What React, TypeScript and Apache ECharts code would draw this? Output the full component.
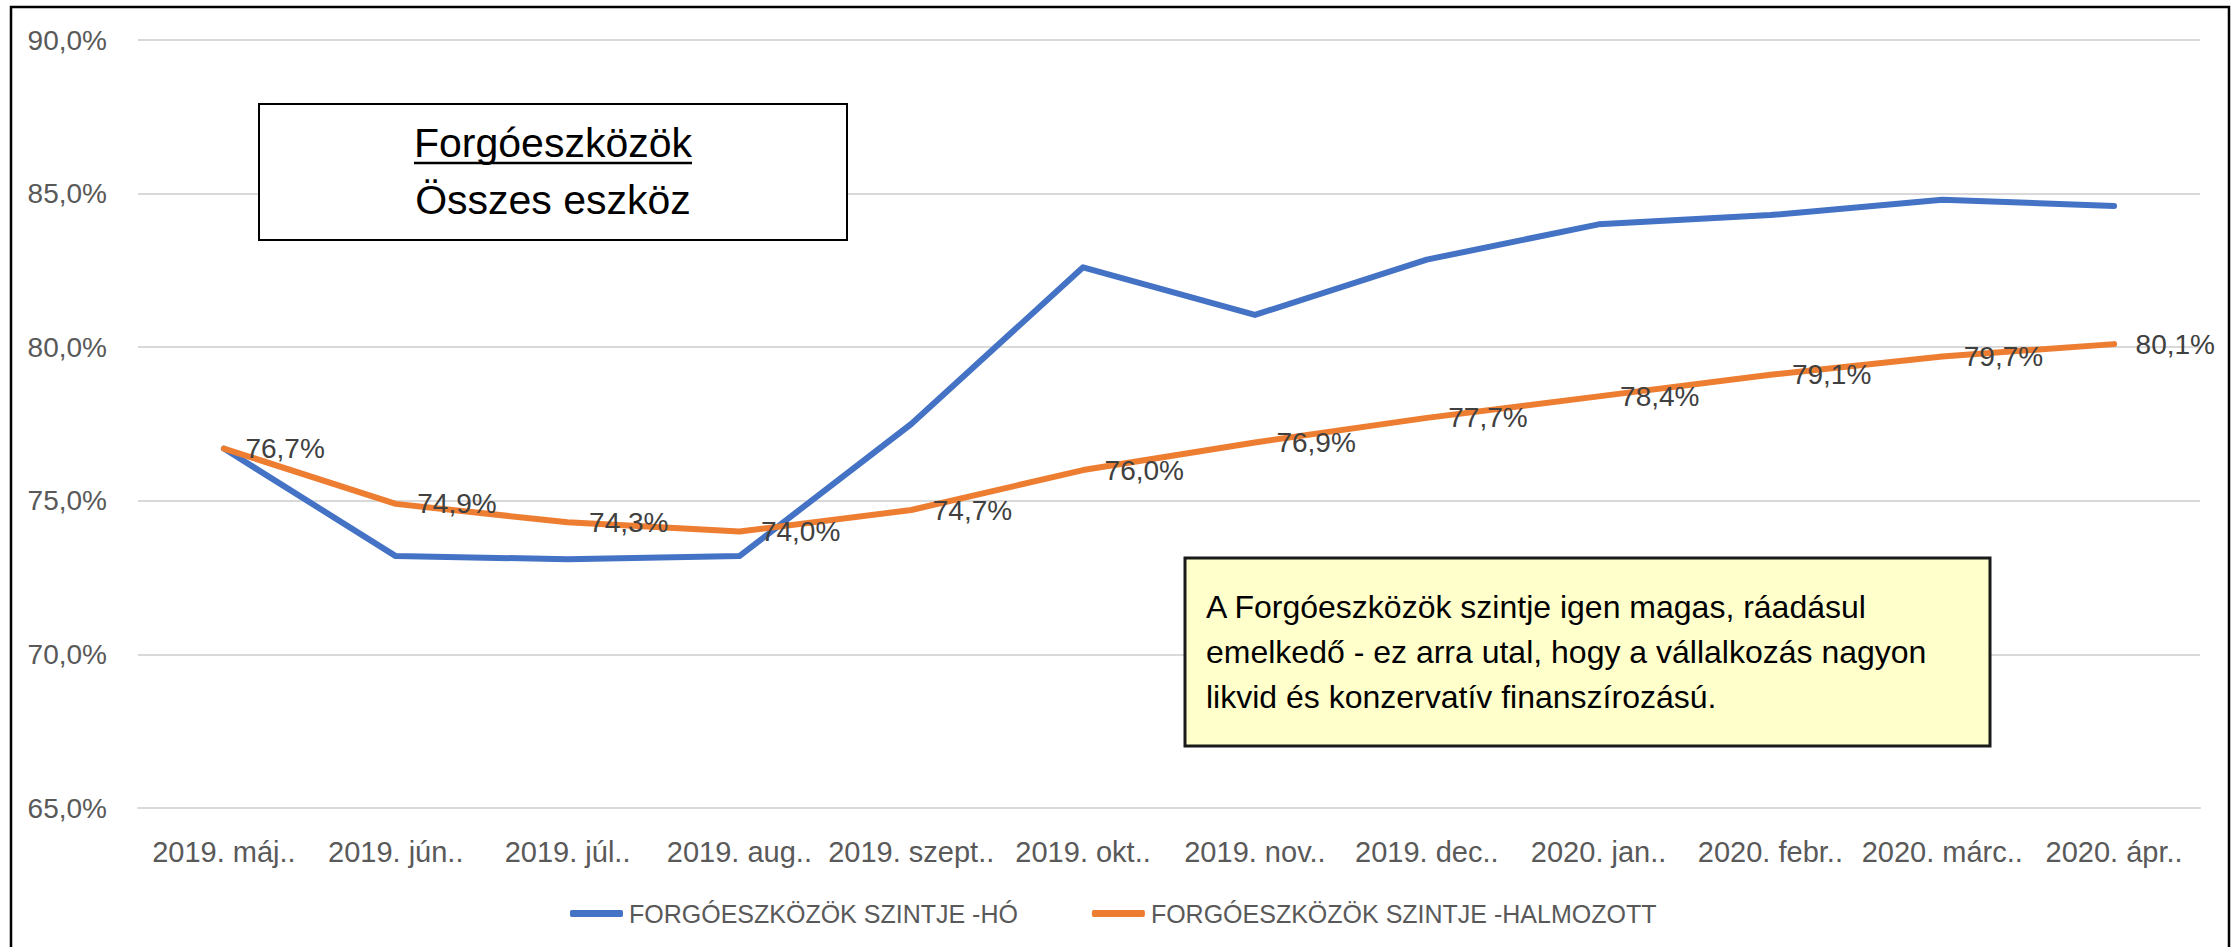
import React, { useEffect, useRef } from "react";
import * as echarts from "echarts";

const categories = [
  "2019. máj..", "2019. jún..", "2019. júl..", "2019. aug..", "2019. szept..", "2019. okt..",
  "2019. nov..", "2019. dec..", "2020. jan..", "2020. febr..", "2020. márc..", "2020. ápr..",
];
const seriesNames = ["FORGÓESZKÖZÖK SZINTJE -HÓ", "FORGÓESZKÖZÖK SZINTJE -HALMOZOTT"];
const monthly = [76.7, 73.2, 73.1, 73.2, 77.5, 82.6, 81.05, 82.85, 84.0, 84.3, 84.8, 84.6];
const cumulative = [76.7, 74.9, 74.3, 74.0, 74.7, 76.0, 76.9, 77.7, 78.4, 79.1, 79.7, 80.1];
const yTicks = [65, 70, 75, 80, 85, 90];
const titleLines = ["Forgóeszközök", "Összes eszköz"];
const noteText = [
  "A Forgóeszközök szintje igen magas, ráadásul",
  "emelkedő - ez arra utal, hogy a vállalkozás nagyon",
  "likvid és konzervatív finanszírozású.",
];

const FONT = "'Liberation Sans', Arial, sans-serif";
const pct = (v: number) => v.toFixed(1).replace(".", ",") + "%";

export default function App() {
  const ref = useRef<HTMLDivElement>(null);
  useEffect(() => {
    if (!ref.current) return;
    const chart = echarts.init(ref.current, undefined, { renderer: "svg" });
    chart.setOption({
      animation: false,
      backgroundColor: "#ffffff",
      textStyle: { fontFamily: FONT },
      grid: { left: 138, right: 31, top: 40, bottom: 139, containLabel: false },
      legend: {
        left: 565,
        top: 896,
        itemWidth: 53,
        itemHeight: 7,
        itemGap: 74,
        textStyle: { fontFamily: FONT, fontSize: 25, color: "#595959", padding: [0, 0, 0, 1] },
        data: [
          { name: seriesNames[0], icon: "roundRect" },
          { name: seriesNames[1], icon: "roundRect" },
        ],
      },
      xAxis: {
        type: "category",
        data: categories,
        boundaryGap: true,
        axisTick: { show: false },
        axisLine: { show: true, lineStyle: { color: "#D9D9D9", width: 2 } },
        axisLabel: { interval: 0, margin: 29, fontSize: 29, color: "#595959", fontFamily: FONT },
      },
      yAxis: {
        type: "value",
        min: yTicks[0],
        max: yTicks[yTicks.length - 1],
        interval: yTicks[1] - yTicks[0],
        axisLine: { show: false },
        axisTick: { show: false },
        splitLine: { lineStyle: { color: "#D9D9D9", width: 2 } },
        axisLabel: { margin: 31, fontSize: 28, color: "#595959", fontFamily: FONT, formatter: (v: number) => pct(v) },
      },
      series: [
        {
          name: seriesNames[0],
          type: "line",
          data: monthly,
          symbol: "none",
          color: "#4472C4",
          lineStyle: { color: "#4472C4", width: 6, cap: "round", join: "round" },
          z: 2,
        },
        {
          name: seriesNames[1],
          type: "line",
          data: cumulative,
          symbol: "circle",
          symbolSize: 3,
          showSymbol: true,
          color: "#ED7D31",
          itemStyle: { color: "#ED7D31" },
          lineStyle: { color: "#ED7D31", width: 6, cap: "round", join: "round" },
          label: {
            show: true,
            position: "right",
            distance: 20,
            fontSize: 28,
            color: "#404040",
            fontFamily: FONT,
            formatter: (p: any) => pct(p.value),
          },
          labelLayout: { hideOverlap: false },
          z: 3,
        },
      ],
      graphic: [
        {
          type: "rect",
          shape: { x: 11, y: 7, width: 2218, height: 980 },
          style: { fill: "none", stroke: "#000000", lineWidth: 2.5 },
          silent: true,
          z: 100,
        },
        {
          type: "rect",
          shape: { x: 259, y: 104, width: 588, height: 136 },
          style: { fill: "#ffffff", stroke: "#000000", lineWidth: 2 },
          z: 50,
        },
        {
          type: "text",
          x: 553,
          y: 143,
          style: { text: titleLines[0], fontSize: 41, fontFamily: FONT, fill: "#000000", align: "center", verticalAlign: "middle" },
          z: 51,
        },
        {
          type: "line",
          shape: { x1: 414, y1: 163, x2: 692, y2: 163 },
          style: { stroke: "#000000", lineWidth: 2.5 },
          z: 51,
        },
        {
          type: "text",
          x: 553,
          y: 200,
          style: { text: titleLines[1], fontSize: 41, fontFamily: FONT, fill: "#000000", align: "center", verticalAlign: "middle" },
          z: 51,
        },
        {
          type: "rect",
          shape: { x: 1185, y: 558, width: 805, height: 188 },
          style: { fill: "#FFFFCC", stroke: "#1a1a1a", lineWidth: 3 },
          z: 50,
        },
        {
          type: "text",
          x: 1206,
          y: 652,
          style: {
            text: noteText.join("\n"),
            fontSize: 32,
            lineHeight: 45,
            fontFamily: FONT,
            fill: "#000000",
            align: "left",
            verticalAlign: "middle",
          },
          z: 51,
        },
      ],
    });
    return () => chart.dispose();
  }, []);
  return <div ref={ref} style={{ position: "fixed", left: 0, top: 0, width: 2231, height: 947 }} />;
}
